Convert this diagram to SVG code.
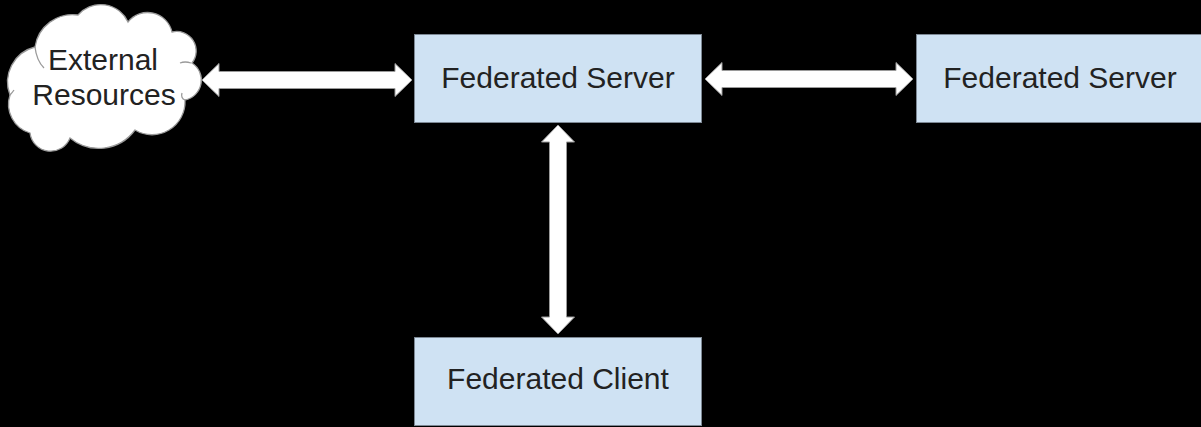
<svg xmlns="http://www.w3.org/2000/svg" width="1201" height="427" viewBox="0 0 1201 427">
  <style>
    .box { fill: #cfe2f3; stroke: #7d8894; stroke-width: 1; }
    .label { font-family: "Liberation Sans", Arial, sans-serif; font-size: 30px; fill: #222222; text-anchor: middle; }
    .arrow { fill: #ffffff; stroke: #9a9a9a; stroke-width: 1; stroke-linejoin: miter; }
    .cloud { fill: #ffffff; stroke: #9a9a9a; stroke-width: 1.3; }
    .cloud-line { fill: none; stroke: #9a9a9a; stroke-width: 1.3; }
  </style>

  <rect x="0" y="0" width="1201" height="427" fill="#000000"/>

  <!-- Connectors: double-headed block arrows -->
  <g id="connectors">
    <polygon class="arrow" points="202,80 219,63.5 219,71.5 395,71.5 395,63.5 412,80 395,96.5 395,88.5 219,88.5 219,96.5"/>
    <polygon class="arrow" points="705,79 722,62.5 722,70.5 896,70.5 896,62.5 913,79 896,95.5 896,87.5 722,87.5 722,95.5"/>
    <polygon class="arrow" points="558,125 574.5,142 566.5,142 566.5,317 574.5,317 558,334 541.5,317 549.5,317 549.5,142 541.5,142"/>
  </g>

  <!-- Cloud: External Resources -->
  <g id="external-resources">
    <path class="cloud" d="M10,95
      A36,36 0 0 1 35,47
      A38,38 0 0 1 78,15
      A30,30 0 0 1 128,22
      A25,25 0 0 1 172,32
      A19.5,19.5 0 0 1 192,63
      A20.3,20.3 0 0 1 185,100
      A33,33 0 0 1 135,130
      A45,45 0 0 1 70,138
      A20.8,20.8 0 0 1 30,133
      A30,30 0 0 1 10,95 Z"/>
    <path class="cloud-line" d="M35,47 C36,56 39,63 44,68"/>
    <path class="cloud-line" d="M180,63 Q185,61 191,63"/>
    <path class="cloud-line" d="M185,100 C182,99 181,96 182,93"/>
    <path class="cloud-line" d="M10,95 Q12,93 14,90"/>
    <text class="label" x="103" y="70">External</text>
    <text class="label" x="104" y="105">Resources</text>
  </g>

  <!-- Federated Server (centre) -->
  <g id="server-main">
    <rect class="box" x="414.5" y="34.5" width="287" height="88"/>
    <text class="label" x="558" y="88">Federated Server</text>
  </g>

  <!-- Federated Server (peer) -->
  <g id="server-peer">
    <rect class="box" x="916.5" y="34.5" width="287" height="88"/>
    <text class="label" x="1060" y="88">Federated Server</text>
  </g>

  <!-- Federated Client -->
  <g id="client">
    <rect class="box" x="414.5" y="337.5" width="287" height="88"/>
    <text class="label" x="558" y="389">Federated Client</text>
  </g>
</svg>
